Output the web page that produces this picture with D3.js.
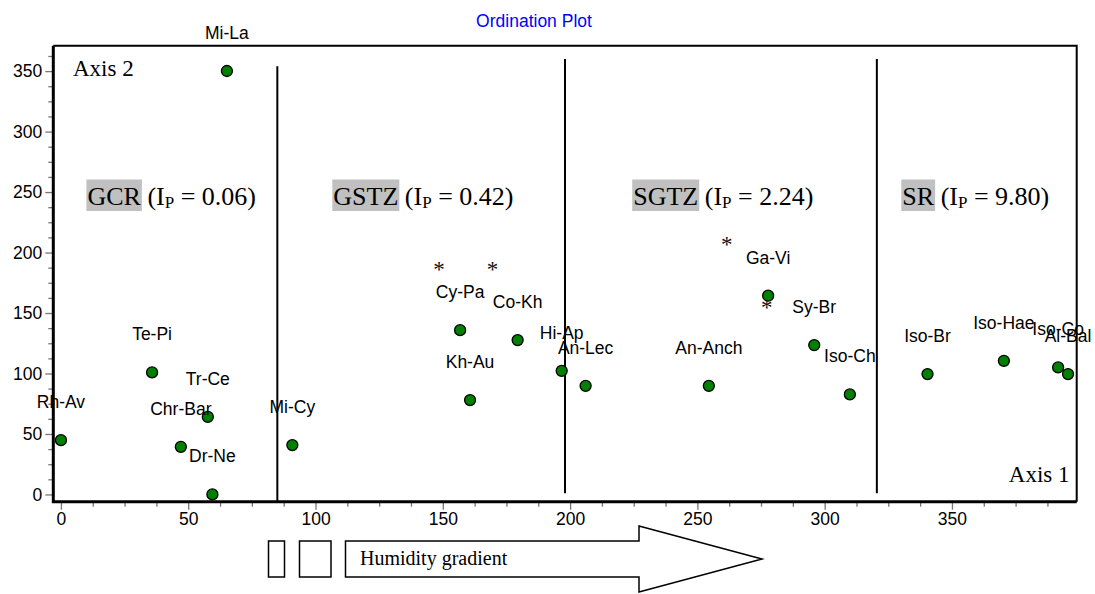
<!DOCTYPE html>
<html>
<head>
<meta charset="utf-8">
<script src="https://cdn.jsdelivr.net/npm/d3@7"></script>
<style>
  body { margin: 0; background: #fff; }
  svg { display: block; }
  .tick text { font-family: "Liberation Sans", Arial, sans-serif; font-size: 17.5px; fill: #000; }
  .tick line { stroke: #777; stroke-width: 1.3; }
</style>
</head>
<body>
<svg width="1095" height="594"></svg>
<script>
// species points (Axis 1, Axis 2)
var species = ["Rh-Av", "Te-Pi", "Chr-Bar", "Tr-Ce", "Dr-Ne", "Mi-La", "Mi-Cy", "Cy-Pa", "Kh-Au", "Co-Kh",
               "Hi-Ap", "An-Lec", "An-Anch", "Ga-Vi", "Sy-Br", "Iso-Ch", "Iso-Br", "Iso-Hae", "Iso-Co", "Al-Bal"];
var axis1 = [0, 35.8, 47.1, 57.7, 59.5, 65.2, 90.9, 156.8, 160.7, 179.4,
             196.7, 206.1, 254.5, 277.8, 295.9, 309.9, 340.4, 370.4, 391.7, 395.6];
var axis2 = [44.9, 100.9, 39.4, 64.2, 0, 350.1, 40.8, 135.8, 78.0, 127.6,
             102.2, 89.8, 89.8, 164.3, 123.5, 82.7, 99.5, 110.5, 105.0, 99.5];

// asterisk marks
var starX = [148.5, 169.5, 261.5, 277.2];
var starY = [188.3, 188.3, 208.9, 156.6];

// zone boundaries and zone labels
var dividerX = [85, 198, 320.5];
var dividerBottom = [-6, 1, 1];
var dividerTop = [354, 360, 360];
var zoneNames = ["GCR", "GSTZ", "SGTZ", "SR"];
var zoneIp = ["0.06", "0.42", "2.24", "9.80"];
var zoneX = [10.4, 107, 224.8, 330.5];
var zoneY = 239.3;

var xMajor = [0, 50, 100, 150, 200, 250, 300, 350];
var yMajor = [0, 50, 100, 150, 200, 250, 300, 350];
var xMinor = d3.range(0, 400, 12.5).filter(function(v) { return v % 50 !== 0; });
var yMinor = d3.range(0, 370, 12.5).filter(function(v) { return v % 50 !== 0; });

var svg = d3.select("svg");
var plotLeft = 53.3, plotTop = 45.7, plotRight = 1076.7, plotBottom = 501.7;

var x = d3.scaleLinear().domain([-3, 399]).range([plotLeft, plotRight]);
var y = d3.scaleLinear().domain([-6, 371]).range([plotBottom, plotTop]);

// title
svg.append("text")
    .attr("x", 534).attr("y", 27)
    .attr("text-anchor", "middle")
    .style("font-family", "Liberation Sans, Arial, sans-serif")
    .style("font-size", "17.5px")
    .style("fill", "#0000ff")
    .text("Ordination Plot");

// axes
function axisGroup(axis, tr) {
  var g = svg.append("g").attr("transform", tr).call(axis);
  g.select(".domain").remove();
  return g;
}
axisGroup(d3.axisBottom(x).tickValues(xMinor).tickSize(5).tickFormat(""), "translate(0," + plotBottom + ")");
axisGroup(d3.axisBottom(x).tickValues(xMajor).tickSize(8).tickPadding(3).tickFormat(d3.format("d")), "translate(0," + plotBottom + ")");
axisGroup(d3.axisLeft(y).tickValues(yMinor).tickSize(5).tickFormat(""), "translate(" + plotLeft + ",0)");
axisGroup(d3.axisLeft(y).tickValues(yMajor).tickSize(8).tickPadding(3).tickFormat(d3.format("d")), "translate(" + plotLeft + ",0)");

// frame: thin top/right, thick left/bottom
svg.append("path")
    .attr("d", "M" + plotLeft + "," + plotTop + "H" + plotRight + "V" + plotBottom)
    .attr("fill", "none").attr("stroke", "#000").attr("stroke-width", 2);
svg.append("path")
    .attr("d", "M" + plotLeft + "," + plotTop + "V" + plotBottom + "H" + plotRight)
    .attr("fill", "none").attr("stroke", "#000").attr("stroke-width", 3);

// zone dividers
svg.append("g").selectAll("line")
    .data(dividerX)
    .enter().append("line")
      .attr("x1", function(d) { return x(d); })
      .attr("x2", function(d) { return x(d); })
      .attr("y1", function(d, i) { return y(dividerTop[i]); })
      .attr("y2", function(d, i) { return y(dividerBottom[i]); })
      .attr("stroke", "#000").attr("stroke-width", 2);

// axis names
svg.append("text").attr("x", 73).attr("y", 76)
    .style("font-family", "Liberation Serif, Times New Roman, serif").style("font-size", "23px")
    .text("Axis 2");
svg.append("text").attr("x", 1069.5).attr("y", 482)
    .attr("text-anchor", "end")
    .style("font-family", "Liberation Serif, Times New Roman, serif").style("font-size", "23px")
    .text("Axis 1");

// zone labels with grey box behind the name
var zone = svg.append("g").selectAll("g")
    .data(zoneNames)
    .enter().append("g");

zone.each(function(name, i) {
  var g = d3.select(this);
  var x0 = x(zoneX[i]), y0 = y(zoneY);
  var box = g.append("rect").attr("fill", "#c0c0c0");
  var t = g.append("text")
      .attr("x", x0).attr("y", y0)
      .style("font-family", "Liberation Serif, Times New Roman, serif")
      .style("font-size", "26px");
  var nm = t.append("tspan").text(name);
  t.append("tspan").text(" (I");
  t.append("tspan").attr("dy", 3).style("font-size", "17px").text("P");
  t.append("tspan").attr("dy", -3).text(" = " + zoneIp[i] + ")");
  var w = nm.node().getComputedTextLength();
  box.attr("x", x0 - 1).attr("y", y0 - 25.5).attr("width", w + 2).attr("height", 31.5);
});

// asterisks
svg.append("g").selectAll("text")
    .data(starX)
    .enter().append("text")
      .attr("x", function(d) { return x(d); })
      .attr("y", function(d, i) { return y(starY[i]) + 10; })
      .attr("text-anchor", "middle")
      .style("font-family", "Liberation Serif, Times New Roman, serif")
      .style("font-size", "23px")
      .style("fill", "#111")
      .text("*");

// points
svg.append("g").selectAll("circle")
    .data(species)
    .enter().append("circle")
      .attr("cx", function(d, i) { return x(axis1[i]); })
      .attr("cy", function(d, i) { return y(axis2[i]); })
      .attr("r", 5.5)
      .attr("fill", "#008000")
      .attr("stroke", "#000")
      .attr("stroke-width", 1.3);

// point labels
svg.append("g").selectAll("text")
    .data(species)
    .enter().append("text")
      .attr("x", function(d, i) { return x(axis1[i]); })
      .attr("y", function(d, i) { return y(axis2[i]) - 32; })
      .attr("text-anchor", "middle")
      .style("font-family", "Liberation Sans, Arial, sans-serif")
      .style("font-size", "17.5px")
      .text(function(d) { return d; });

// humidity gradient arrow below the axis
var grad = svg.append("g").attr("fill", "none").attr("stroke", "#000").attr("stroke-width", 1.5);
grad.append("rect").attr("x", 268.5).attr("y", 541).attr("width", 16).attr("height", 36);
grad.append("rect").attr("x", 299.5).attr("y", 541).attr("width", 31.5).attr("height", 36);
grad.append("path")
    .attr("d", "M345.5,541H639V526L762,559L639,592V577H345.5Z")
    .attr("fill", "#fff");
svg.append("text").attr("x", 360).attr("y", 565)
    .style("font-family", "Liberation Serif, Times New Roman, serif").style("font-size", "20px")
    .text("Humidity gradient");
</script>
</body>
</html>
